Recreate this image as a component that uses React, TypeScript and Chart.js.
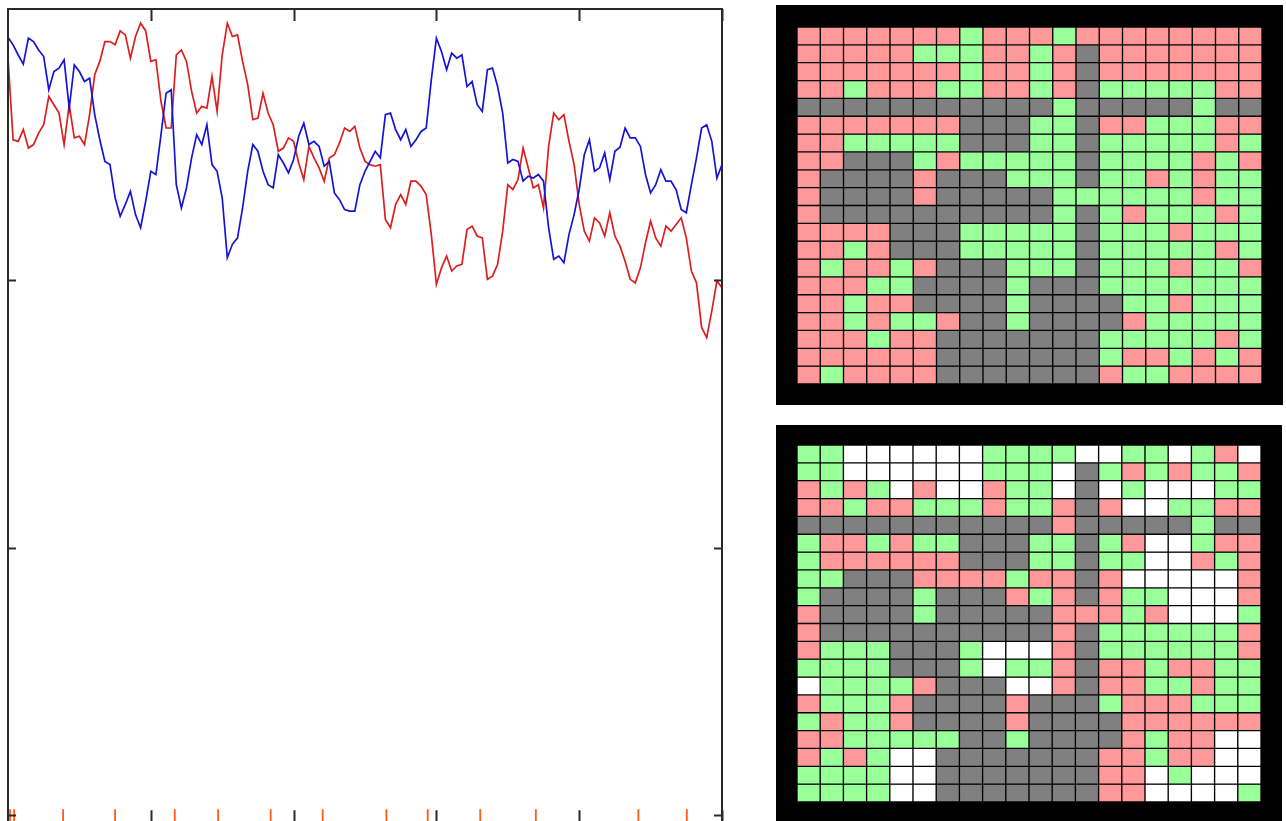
import React, { useEffect, useRef } from "react";
import { Chart, registerables } from "chart.js";

Chart.register(...registerables);

// ---- line panel data (sample index 0..140 along the x axis) ----
const blueSeries = [
  290.9, 288.1, 284.3, 280.9, 290.6, 289.3, 286.2, 283.7, 271.3, 278.1,
  279.4, 282.5, 264.4, 280.6, 278.1, 274.4, 275.6, 262.0, 252.6, 244.5,
  243.3, 230.9, 224.0, 228.4, 233.3, 224.6, 219.7, 229.6, 240.8, 239.6,
  254.5, 270.0, 271.3, 235.8, 227.1, 234.6, 245.8, 254.5, 250.8, 258.2,
  243.3, 240.8, 230.9, 208.5, 213.5, 215.9, 227.1, 240.8, 250.8, 248.3,
  240.8, 235.8, 234.6, 247.0, 243.9, 240.2, 245.2, 253.9, 258.8, 250.8,
  252.0, 250.1, 242.7, 244.5, 232.7, 230.2, 226.5, 225.9, 225.9, 235.8,
  240.8, 244.5, 248.3, 245.8, 262.0, 262.6, 256.4, 252.6, 256.4, 250.1,
  252.6, 255.7, 257.0, 275.0, 290.6, 285.6, 278.8, 285.0, 283.1, 284.3,
  272.5, 274.4, 265.7, 263.2, 278.8, 279.4, 272.5, 262.6, 243.9, 245.2,
  244.5, 237.1, 239.0, 238.3, 239.6, 237.1, 219.7, 207.9, 209.1, 206.6,
  217.2, 224.6, 234.0, 247.0, 252.6, 240.8, 242.1, 247.7, 237.7, 248.3,
  249.8, 257.0, 253.3, 253.3, 250.1, 239.6, 232.7, 235.8, 241.4, 237.1,
  237.1, 234.0, 226.5, 225.3, 235.8, 245.8, 257.0, 258.2, 252.0, 238.3,
  243.3,
];

const redSeries = [
  283.1, 252.6, 252.0, 256.4, 249.5, 250.8, 255.1, 258.2, 268.8, 265.7,
  262.6, 250.8, 265.7, 253.3, 253.9, 250.8, 262.0, 276.9, 281.9, 289.3,
  289.3, 288.1, 293.3, 291.8, 283.1, 291.2, 296.2, 293.3, 281.9, 282.5,
  266.9, 257.0, 257.0, 284.3, 286.2, 281.9, 270.7, 262.6, 265.1, 264.4,
  276.3, 263.2, 284.3, 296.2, 291.2, 291.8, 281.9, 273.2, 260.1, 260.7,
  270.0, 262.6, 258.2, 248.3, 249.5, 253.3, 252.0, 243.9, 237.7, 250.1,
  245.8, 242.1, 237.1, 245.8, 247.0, 251.4, 257.0, 255.7, 257.6, 249.5,
  244.5, 243.3, 242.7, 243.3, 222.8, 219.7, 228.4, 232.1, 228.4, 237.1,
  237.1, 235.2, 232.1, 217.2, 198.5, 204.7, 209.1, 203.5, 205.4, 206.0,
  219.0, 220.3, 216.6, 215.9, 200.4, 201.6, 206.0, 218.4, 235.8, 234.0,
  237.7, 249.5, 242.1, 234.6, 235.8, 227.1, 250.1, 262.6, 260.1, 262.0,
  252.0, 243.3, 228.4, 218.4, 214.7, 223.4, 221.5, 216.6, 225.3, 216.6,
  212.8, 207.2, 200.4, 199.1, 204.7, 214.1, 222.2, 215.9, 212.8, 220.3,
  218.4, 220.9, 223.4, 215.9, 203.5, 199.1, 182.4, 178.6, 188.6, 199.8,
  197.3,
];

// event markers along the bottom axis (sample index)
const eventMarks = [0.4, 1.2, 10.8, 21.0, 32.7, 41.2, 51.5, 61.7, 74.2, 82.3, 92.6, 103.5, 123.6, 133.1];
const eventLevel = 0;

const xTickValues = [28, 56, 84, 112, 140];
const yTickValues = [0, 100, 200];
const xRange = [0, 140];
const yRange = [-3, 301.5];

// ---- grid panels: P = pink, G = green, D = grey, W = white ----
const topGrid = [
  "PPPPPPPGPPPGPPPPPPPP",
  "PPPPPGGGPPGPDPPPPPPP",
  "PPPPPPPGPPGPDPPPPPPP",
  "PPGPPPGGPPGPDGGGGGPP",
  "DDDDDDDDDDDGDDDDDGDD",
  "PPPPPPPDDDGGDPPGGGPP",
  "PPGGGGGDDDGGDGGGGGPG",
  "PPDDDGPGGGGGDGGGGPGP",
  "PDDDDPDDDGGGDGGPGPGG",
  "PDDDDPDDDDDGGGGGGPGG",
  "PDDDDDDDDDDGDGPGGGPG",
  "PPPPDDDGGGGGDGGGPGGG",
  "PPGPDDDGGGGGDGGGGGPG",
  "PGPPGPDDDGGGDGGGPGGP",
  "PPPGGDDDDGDDDGGGGGGG",
  "PPGPPDDDDGDDDDGGPGGG",
  "PPGPGGPDDGDDDDPGGGGG",
  "PPPGPPDDDDDDDGGGGGPG",
  "PPPPPPDDDDDDDGPPGPGP",
  "PGPPPPDDDDDDDPGGPPPP",
];

const bottomGrid = [
  "GGWWWWWWGGGGWWGGWGPW",
  "GGWWWWWWGGGWDGPGPGGP",
  "PGPGWPWWPGGWDWGWWWGG",
  "PPGPPGGGPGGPDPWWGGPP",
  "DDDDDDDDDDDPDDDDDGDD",
  "GPPGPGGDDDGGDGPWWGPP",
  "GPPPPPPDDDGGDGGWWPGP",
  "GGDDDPPPPGPPDPWWWWWP",
  "GDDDDGDDDPGPDPGGWWWP",
  "PDDDDGDDDDDPPPGPWWWG",
  "PDDDDDDDDDDPDGGGGGGP",
  "PGGGDDDGWWWPDGGGGGGP",
  "GGGGDDDGWGGPDPPGPPGG",
  "WGGGGPDDDWWPDPPGGPGG",
  "PGGGPDDDDPDDDGPPPGGG",
  "GPGGPDDDDPDDDDPPPPPP",
  "PPGGGGGDDGDDDDPGPPWW",
  "PGPGWWDDDDDDDPPGPPWW",
  "GGGGWWDDDDDDDPPWGWWW",
  "GGGGWWDDDDDDDPPWWWWG",
];

const cellColors: Record<string, string> = {
  P: "#ff9999",
  G: "#99ff99",
  D: "#808080",
  W: "#ffffff",
};

const frameTicks = {
  id: "frameTicks",
  afterDraw(chart: any) {
    const { ctx, chartArea: a, scales } = chart;
    const x = scales.x;
    const y = scales.y;
    ctx.save();
    ctx.strokeStyle = "#2a2a2a";
    ctx.lineWidth = 2;
    ctx.strokeRect(a.left, a.top, a.right - a.left, a.bottom - a.top);
    ctx.beginPath();
    xTickValues.forEach((v) => {
      const px = Math.round(x.getPixelForValue(v)) + 0.5;
      ctx.moveTo(px, a.top);
      ctx.lineTo(px, a.top + 12);
      ctx.moveTo(px, a.bottom);
      ctx.lineTo(px, a.bottom - 13);
    });
    yTickValues.forEach((v) => {
      const py = Math.round(y.getPixelForValue(v)) + 0.5;
      ctx.moveTo(a.left, py);
      ctx.lineTo(a.left + 8, py);
      ctx.moveTo(a.right, py);
      ctx.lineTo(a.right - 8, py);
    });
    ctx.stroke();
    ctx.restore();
  },
};

function LineChart() {
  const ref = useRef<HTMLCanvasElement>(null);
  useEffect(() => {
    const chart = new Chart(ref.current as HTMLCanvasElement, {
      type: "line",
      data: {
        datasets: [
          {
            label: "blue",
            data: blueSeries.map((v, i) => ({ x: i, y: v })),
            borderColor: "#1414d8",
            borderWidth: 1.7,
            pointRadius: 0,
            tension: 0,
          },
          {
            label: "red",
            data: redSeries.map((v, i) => ({ x: i, y: v })),
            borderColor: "#dc1e1e",
            borderWidth: 1.7,
            pointRadius: 0,
            tension: 0,
          },
          {
            label: "events",
            data: eventMarks.map((e) => ({ x: e, y: eventLevel })),
            showLine: false,
            pointStyle: "line",
            pointRotation: 90,
            pointRadius: 6,
            pointBorderColor: "#ff5a1a",
            pointBorderWidth: 1.8,
            borderColor: "#ff5a1a",
          },
        ],
      },
      options: {
        animation: false,
        responsive: false,
        events: [],
        layout: { padding: { left: 8, top: 9, right: 8, bottom: 6 } },
        plugins: { legend: { display: false }, tooltip: { enabled: false } },
        scales: {
          x: { type: "linear", min: xRange[0], max: xRange[1], display: false },
          y: { type: "linear", min: yRange[0], max: yRange[1], display: false },
        },
      },
      plugins: [frameTicks],
    } as any);
    return () => chart.destroy();
  }, []);
  return (
    <canvas
      ref={ref}
      width={730}
      height={831}
      style={{ position: "absolute", left: 0, top: 0, display: "block" }}
    />
  );
}

function GridChart(props: {
  rows: string[];
  left: number;
  top: number;
  width: number;
  height: number;
  padding: { left: number; top: number; right: number; bottom: number };
}) {
  const ref = useRef<HTMLCanvasElement>(null);
  useEffect(() => {
    const cols = props.rows[0].length;
    const chart = new Chart(ref.current as HTMLCanvasElement, {
      type: "bar",
      data: {
        labels: Array.from({ length: cols }, (_, c) => String(c + 1)),
        datasets: props.rows.map((row, r) => ({
          label: "row " + (r + 1),
          data: row.split("").map(() => 1),
          backgroundColor: row.split("").map((c) => cellColors[c]),
          borderColor: "#000000",
          borderWidth: 1,
          borderSkipped: false,
          categoryPercentage: 1,
          barPercentage: 1,
        })),
      },
      options: {
        animation: false,
        responsive: false,
        events: [],
        layout: { padding: props.padding },
        plugins: { legend: { display: false }, tooltip: { enabled: false } },
        scales: {
          x: { stacked: true, display: false },
          y: { stacked: true, display: false, min: 0, max: props.rows.length, reverse: true },
        },
      },
    } as any);
    return () => chart.destroy();
  }, []);
  return (
    <canvas
      ref={ref}
      width={props.width}
      height={props.height}
      style={{
        position: "absolute",
        left: props.left,
        top: props.top,
        background: "#000",
        display: "block",
      }}
    />
  );
}

export default function App() {
  return (
    <div
      style={{
        position: "absolute",
        left: 0,
        top: 0,
        width: 1286,
        height: 821,
        overflow: "hidden",
        background: "#fff",
      }}
    >
      <LineChart />
      <GridChart
        rows={topGrid}
        left={776}
        top={5}
        width={507}
        height={400}
        padding={{ left: 21, top: 22, right: 21, bottom: 21 }}
      />
      <GridChart
        rows={bottomGrid}
        left={776}
        top={425}
        width={506}
        height={400}
        padding={{ left: 21, top: 20, right: 21, bottom: 23 }}
      />
    </div>
  );
}
